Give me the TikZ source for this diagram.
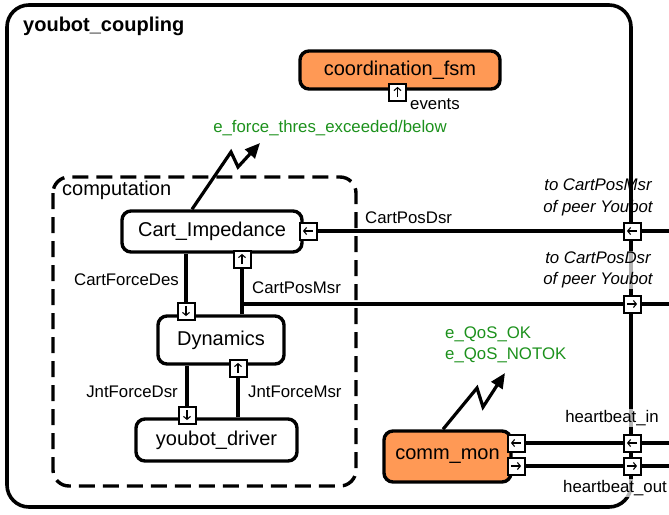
\documentclass[tikz,border=0pt]{standalone}
\usepackage{fontspec}
\setmainfont{Liberation Sans}
\usetikzlibrary{arrows.meta,calc}
\definecolor{fsmorange}{RGB}{255,153,85}
\definecolor{evgreen}{RGB}{28,145,28}
\newcommand{\bigfont}{\fontsize{20}{24}\selectfont}
\newcommand{\smallfont}{\fontsize{16.8}{21.5}\selectfont}
\begin{document}
\begin{tikzpicture}[x=1pt,y=-1pt,
  block/.style={draw,line width=3.4pt,rounded corners=9pt,font=\bigfont,inner sep=0pt},
  fsmblock/.style={block,fill=fsmorange},
  port/.style 2 args={draw,fill=white,line width=2pt,minimum size=17pt,inner sep=0pt,
    path picture={\draw[line width=1.1pt,-{Straight Barb[length=3pt,width=7pt]}]
      ($(path picture bounding box.#1)!0.2!(path picture bounding box.#2)$) --
      ($(path picture bounding box.#2)!0.2!(path picture bounding box.#1)$);}},
  pup/.style={port={south}{north}},
  pdown/.style={port={north}{south}},
  pleft/.style={port={east}{west}},
  pright/.style={port={west}{east}},
  conn/.style={line width=3.2pt},
  bolt/.style={line width=3.2pt,-{Triangle[length=15pt,width=13pt]}},
  lbl/.style={font=\smallfont,inner sep=1pt},
  peer/.style={lbl,font=\smallfont\itshape,align=center},
  see/.style={fill=white,fill opacity=0.7,text opacity=1},
  evt/.style={lbl,text=evgreen,align=left}]
\useasboundingbox (0,0) rectangle (669,514);

\draw[line width=3.6pt,rounded corners=22pt] (7,5) rectangle (631,507);
\node[anchor=west,font=\bigfont\bfseries,inner sep=0pt] (title) at (23,26) {youbot\_coupling};

\draw[line width=3.4pt,dash pattern=on 16pt off 8pt,rounded corners=16pt] (53,177) rectangle (356,486);
\node[anchor=west,font=\bigfont,inner sep=0pt] (comp) at (62,190) {computation};

\node[fsmblock,minimum width=200pt,minimum height=38pt] (fsm) at (400,70) {coordination\_fsm};
\node[block,minimum width=180pt,minimum height=41pt] (cimp) at (212,231.5) {Cart\_Impedance};
\node[block,minimum width=126pt,minimum height=48pt] (dyn) at (221,340) {Dynamics};
\node[block,minimum width=161pt,minimum height=42pt] (drv) at (216.5,440) {youbot\_driver};
\node[fsmblock,minimum width=127pt,minimum height=51pt] (cmon) at (447.5,456.5) {comm\_mon};

\coordinate (eMsr) at (669,231);
\coordinate (eDsr) at (669,304);
\coordinate (eIn) at (669,443);
\coordinate (eOut) at (669,466);
\coordinate (fevtip) at (260,143);
\coordinate (qostip) at (505,373);

% ports
\node[pup] (fsmev) at (397.5,92) {};
\node[pleft] (cimpIn) at (308,231) {};
\node[pup] (cimpMsr) at (242,259) {};
\node[pdown] (dynDes) at (186,311) {};
\node[pup] (dynMsr) at (238,368) {};
\node[pdown] (drvDsr) at (187,415) {};
\node[pleft] (cmonIn) at (516,443) {};
\node[pright] (cmonOut) at (516,466) {};
\node[pleft] (peerMsr) at (632,231) {};
\node[pright] (peerDsr) at (632,304) {};
\node[pleft] (hbIn) at (632,443) {};
\node[pright] (hbOut) at (632,466) {};

\draw[conn] (peerMsr.west) -- (cimpIn.east);
\draw[conn] (peerMsr.east) -- (eMsr);
\draw[conn] (cimp.south -| dynDes) -- (dynDes.north);
\draw[conn] (dyn.north -| cimpMsr) -- (cimpMsr.south);
\draw[conn] (cimpMsr.south |- peerDsr) -- (peerDsr.west);
\draw[conn] (peerDsr.east) -- (eDsr);
\draw[conn] (dyn.south -| drvDsr) -- (drvDsr.north);
\draw[conn] (drv.north -| dynMsr) -- (dynMsr.south);
\draw[conn] (cmonIn.east) -- (hbIn.west);
\draw[conn] (hbIn.east) -- (eIn);
\draw[conn] (cmonOut.east) -- (hbOut.west);
\draw[conn] (hbOut.east) -- (eOut);

\draw[bolt] ([xshift=-20pt]cimp.north) -- (231,152) -- (238,167) -- (fevtip);
\draw[bolt] ([xshift=-4.5pt]cmon.north) -- (477,388) -- (483,407) -- (qostip);

\node[lbl,anchor=west] (events) at (409,104) {events};
\node[evt] (fevt) at (330,128) {e\_force\_thres\_exceeded/below};
\node[evt,anchor=west] (qos) at (444,345) {e\_QoS\_OK\\e\_QoS\_NOTOK};

\node[lbl,anchor=west] (lCPD) at (364,218) {CartPosDsr};
\node[lbl,anchor=west] (lCPM) at (251,288) {CartPosMsr};
\node[lbl,anchor=east] (lCFD) at (180,280) {CartForceDes};
\node[lbl,anchor=east] (lJFD) at (179,392) {JntForceDsr};
\node[lbl,anchor=west] (lJFM) at (247,392) {JntForceMsr};
\node[peer] (lpeer1) at (598,197.5) {to CartPosMsr\\of peer Youbot};
\node[peer,see] (lpeer2) at (598,270) {to CartPosDsr\\of peer Youbot};
\node[lbl,see] (lhbin) at (612,418) {heartbeat\_in};
\node[lbl,see] (lhbout) at (615,488) {heartbeat\_out};
\end{tikzpicture}
\end{document}
